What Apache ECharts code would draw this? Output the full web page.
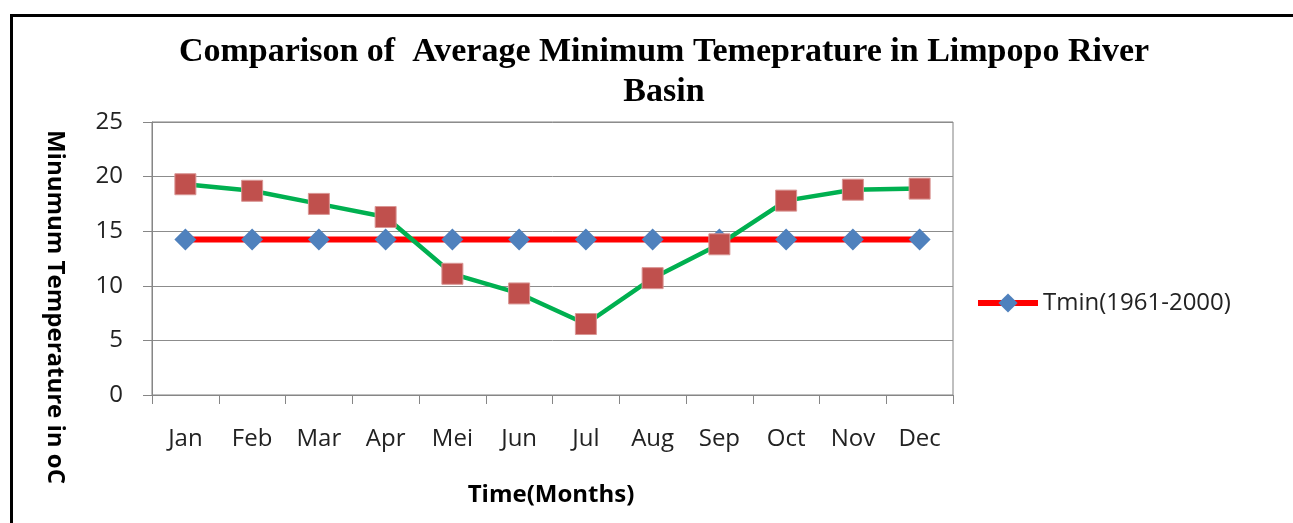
<!DOCTYPE html>
<html>
<head>
<meta charset="utf-8">
<script src="https://cdn.jsdelivr.net/npm/echarts@6/dist/echarts.min.js"></script>
<style>
  html, body { margin: 0; padding: 0; background: #fff; }
  #frame { position: absolute; left: 10px; top: 14px; width: 1290px; height: 520px; border: 3px solid #000; box-sizing: border-box; }
  #chart { position: absolute; left: 0; top: 0; width: 1293px; height: 523px; }
</style>
</head>
<body>
<div id="frame"></div>
<div id="chart"></div>
<script>
const months = ['Jan', 'Feb', 'Mar', 'Apr', 'Mei', 'Jun', 'Jul', 'Aug', 'Sep', 'Oct', 'Nov', 'Dec']
// Tmin(1961-2000), flat long-term average
const tminBase = [14.25, 14.25, 14.25, 14.25, 14.25, 14.25, 14.25, 14.25, 14.25, 14.25, 14.25, 14.25]
// monthly minimum temperature (no legend entry in the original)
const tminMonthly = [19.3, 18.7, 17.5, 16.3, 11.1, 9.3, 6.5, 10.7, 13.8, 17.8, 18.8, 18.9]
const yTicks = { min: 0, max: 25, interval: 5 }

const labelFont = "'Open Sans', 'Noto Sans', sans-serif"

let chart = echarts.init(document.getElementById('chart'))
chart.setOption({
  animation: false,
  title: {
    text: 'Comparison of  Average Minimum Temeprature in Limpopo River\nBasin',
    left: 659,
    top: 27,
    textAlign: 'center',
    textStyle: {
      fontFamily: "'Liberation Serif', 'DejaVu Serif', serif",
      fontWeight: 'bold',
      fontSize: 34,
      lineHeight: 40,
      color: '#000'
    }
  },
  legend: {
    data: ['Tmin(1961-2000)'],
    orient: 'vertical',
    left: 975,
    top: 291,
    padding: 0,
    itemWidth: 60,
    itemHeight: 24,
    itemGap: 4,
    lineStyle: { width: 6 },
    textStyle: { fontFamily: labelFont, fontSize: 24, color: '#222' }
  },
  grid: {
    left: 152,
    right: 340,
    top: 122,
    bottom: 128,
    show: true,
    borderColor: '#808080',
    borderWidth: 1
  },
  xAxis: {
    type: 'category',
    data: months,
    boundaryGap: true,
    axisLine: { lineStyle: { color: '#868686', width: 1 } },
    axisTick: { show: true, length: 9, interval: 0, lineStyle: { color: '#868686' } },
    axisLabel: { margin: 32, interval: 0, fontFamily: labelFont, fontSize: 24, color: '#222' }
  },
  yAxis: {
    type: 'value',
    min: yTicks.min,
    max: yTicks.max,
    interval: yTicks.interval,
    axisLine: { show: true, lineStyle: { color: '#868686', width: 1 } },
    axisTick: { show: true, length: 9, lineStyle: { color: '#868686' } },
    axisLabel: { margin: 29, fontFamily: labelFont, fontSize: 24, color: '#222' },
    splitLine: { lineStyle: { color: '#8c8c8c', width: 1 } }
  },
  graphic: [
    {
      type: 'text',
      x: 55,
      y: 307,
      rotation: -Math.PI / 2,
      style: {
        text: 'Minumum Temperature in oC',
        fontFamily: labelFont,
        fontWeight: 'bold',
        fontSize: 24,
        fill: '#000',
        align: 'center',
        verticalAlign: 'middle'
      }
    },
    {
      type: 'text',
      x: 551,
      y: 495,
      style: {
        text: 'Time(Months)',
        fontFamily: labelFont,
        fontWeight: 'bold',
        fontSize: 24,
        fill: '#000',
        align: 'center',
        verticalAlign: 'middle'
      }
    }
  ],
  series: [
    {
      name: 'Tmin(1961-2000)',
      type: 'line',
      data: tminBase,
      symbol: 'diamond',
      symbolSize: 22,
      lineStyle: { color: '#ff0000', width: 6 },
      itemStyle: { color: '#4f81bd' }
    },
    {
      name: 'Tmin monthly',
      type: 'line',
      data: tminMonthly,
      symbol: 'rect',
      symbolSize: 21,
      lineStyle: { color: '#00b050', width: 4.5 },
      itemStyle: { color: '#c0504d', borderColor: '#d99694', borderWidth: 1 }
    }
  ]
})
</script>
</body>
</html>
